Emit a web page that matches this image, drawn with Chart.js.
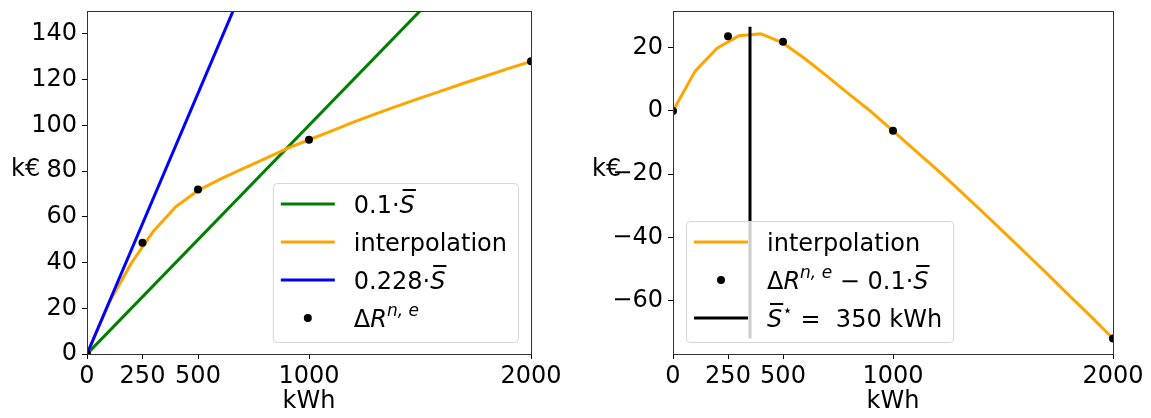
<!DOCTYPE html>
<html lang="en">
<head>
<meta charset="UTF-8">
<title>Storage value vs. size</title>
<script src="https://cdn.jsdelivr.net/npm/chart.js"></script>
<style>
  html, body { margin: 0; padding: 0; background: #fff; overflow: hidden; }
  canvas { position: absolute; top: 0; }
  #left { left: 0; }
  #right { left: 575px; }
</style>
</head>
<body>
<canvas id="left" width="575" height="418"></canvas>
<canvas id="right" width="576" height="418"></canvas>
<script>
  // ---- data ----
  const xTicks = [0, 250, 500, 1000, 2000];
  const leftYTicks = [0, 20, 40, 60, 80, 100, 120, 140];
  const rightYTicks = [-60, -40, -20, 0, 20];

  // interpolation curve, every 100 kWh
  const gridKwh = [0, 100, 200, 300, 400, 500, 600, 700, 800, 900, 1000,
                   1100, 1200, 1300, 1400, 1500, 1600, 1700, 1800, 1900, 2000];
  const interpLeft = [0, 22.5, 39.8, 53.8, 64.4, 71.5, 76.5, 81, 85.3, 89.8, 93.7,
                      97.5, 101.4, 105, 108.5, 111.9, 115.2, 118.5, 121.7, 124.9, 128];
  const interpRight = [0, 12.5, 19.8, 23.8, 24.4, 21.5, 16.5, 11, 5.3, -0.2, -6.3,
                       -12.5, -18.6, -25, -31.5, -38.1, -44.8, -51.5, -58.3, -65.1, -72];

  // sampled points
  const sampleKwh = [0, 250, 500, 1000, 2000];
  const deltaR = [0, 48.6, 71.9, 93.7, 128];
  const deltaRMinus = [0, 23.6, 21.9, -6.3, -72];

  // straight lines 0.1*S and 0.228*S (end points)
  const lineKwh = [0, 2000];
  const line01 = [0, 200];
  const line0228 = [0, 456];

  // optimum
  const sStar = 350;
  const sStarSpan = [-72, 26.6];

  const leftYRange = [0, 150];
  const rightYRange = [-76.9, 31.6];

  const FONT = '"DejaVu Sans", sans-serif';
  Chart.defaults.font.family = FONT;
  Chart.defaults.font.size = 24;
  Chart.defaults.color = '#000';

  const pts = (xs, ys) => xs.map((x, i) => ({ x: x, y: ys[i] }));
  const fmt = v => (v < 0 ? '\u2212' + Math.abs(v) : String(v));

  // tiny "mathtext" renderer for legend labels
  function drawRich(ctx, parts, x, y, draw) {
    const x0 = x;
    parts.forEach(p => {
      const size = p.sup ? 17 : 24;
      ctx.font = (p.it ? 'italic ' : '') + size + 'px ' + FONT;
      const w = ctx.measureText(p.t).width;
      if (draw) {
        ctx.fillText(p.t, x, p.sup ? y - 11 : y);
        if (p.over) ctx.fillRect(x + 3, y - 24, w - 2, 2);
      }
      x += w;
    });
    return x - x0;
  }

  function decorPlugin(entries, corner, yLabelX) {
    return {
      id: 'decor',
      afterDatasetsDraw(chart) {
        const ctx = chart.ctx, a = chart.chartArea;
        ctx.save();
        // axes box
        ctx.strokeStyle = '#333';
        ctx.lineWidth = 1;
        ctx.strokeRect(Math.round(a.left) + 0.5, Math.round(a.top) + 0.5,
                       Math.round(a.right - a.left), Math.round(a.bottom - a.top));
        // legend
        const textW = Math.max(...entries.map(e => drawRich(ctx, e.label, 0, 0, false)));
        const w = 8 + 54 + 19 + textW + 11;
        const h = 21 + (entries.length - 1) * 38 + 24;
        const x = corner === 'right' ? a.right - 13 - w : a.left + 13;
        const y = a.bottom - 12 - h;
        ctx.beginPath();
        ctx.roundRect(x + 0.5, y + 0.5, w, h, 4);
        ctx.fillStyle = 'rgba(255,255,255,0.8)';
        ctx.fill();
        ctx.strokeStyle = '#d6d6d6';
        ctx.stroke();
        entries.forEach((e, i) => {
          const cy = y + 21 + i * 38;
          if (e.dot) {
            ctx.fillStyle = '#000';
            ctx.beginPath();
            ctx.arc(x + 35, cy, 4, 0, 2 * Math.PI);
            ctx.fill();
          } else {
            ctx.strokeStyle = e.color;
            ctx.lineWidth = 3;
            ctx.beginPath();
            ctx.moveTo(x + 8, cy);
            ctx.lineTo(x + 62, cy);
            ctx.stroke();
          }
          ctx.fillStyle = '#000';
          ctx.textAlign = 'left';
          ctx.textBaseline = 'alphabetic';
          drawRich(ctx, e.label, x + 81, cy + 9, true);
        });
        // horizontal y label
        ctx.font = '24px ' + FONT;
        ctx.fillText('k\u20ac', yLabelX, 176);
        ctx.restore();
      }
    };
  }

  function makeScales(yRange, yTicks, yWidth) {
    return {
      x: {
        type: 'linear', min: 0, max: 2000,
        afterBuildTicks: s => { s.ticks = xTicks.map(v => ({ value: v })); },
        afterFit: s => { s.height = 64; s.paddingLeft = 0; s.paddingRight = 0; },
        ticks: { autoSkip: false, maxRotation: 0, padding: 3, callback: v => fmt(v) },
        grid: { drawOnChartArea: false, tickLength: 5, tickColor: '#000' },
        border: { display: false },
        title: { display: true, text: 'kWh', padding: { top: 0, bottom: 2 } }
      },
      y: {
        type: 'linear', min: yRange[0], max: yRange[1],
        afterBuildTicks: s => { s.ticks = yTicks.map(v => ({ value: v })); },
        afterFit: s => { s.width = yWidth; s.paddingTop = 0; s.paddingBottom = 0; },
        ticks: { autoSkip: false, padding: 5, callback: v => fmt(v) },
        grid: { drawOnChartArea: false, tickLength: 5, tickColor: '#000' },
        border: { display: false }
      }
    };
  }

  const baseOpts = (scales, right) => ({
    responsive: false,
    animation: false,
    layout: { padding: { top: 11, right: right, left: 0, bottom: 0 } },
    scales: scales,
    plugins: { legend: { display: false }, tooltip: { enabled: false } }
  });

  const lineDs = (data, color, order) => ({
    data: data, showLine: true, borderColor: color, borderWidth: 3,
    pointRadius: 0, borderJoinStyle: 'round', order: order
  });
  const dotDs = (data, order) => ({
    data: data, showLine: false, pointRadius: 4, pointHoverRadius: 4,
    backgroundColor: '#000', borderColor: '#000', borderWidth: 0, order: order
  });

  new Chart(document.getElementById('left'), {
    type: 'scatter',
    data: {
      datasets: [
        lineDs(pts(lineKwh, line01), '#008000', 3),
        lineDs(pts(gridKwh, interpLeft), '#ffa500', 2),
        lineDs(pts(lineKwh, line0228), '#0000ff', 1),
        dotDs(pts(sampleKwh, deltaR), 0)
      ]
    },
    options: baseOpts(makeScales(leftYRange, leftYTicks, 87), 44),
    plugins: [decorPlugin([
      { color: '#008000', label: [{ t: '0.1\u00b7' }, { t: 'S', it: 1, over: 1 }] },
      { color: '#ffa500', label: [{ t: 'interpolation' }] },
      { color: '#0000ff', label: [{ t: '0.228\u00b7' }, { t: 'S', it: 1, over: 1 }] },
      { dot: true, label: [{ t: '\u0394' }, { t: 'R', it: 1 }, { t: 'n, e', it: 1, sup: 1 }] }
    ], 'right', 11)]
  });

  new Chart(document.getElementById('right'), {
    type: 'scatter',
    data: {
      datasets: [
        lineDs(pts(gridKwh, interpRight), '#ffa500', 2),
        dotDs(pts(sampleKwh, deltaRMinus), 1),
        lineDs(pts([sStar, sStar], sStarSpan), '#000', 0)
      ]
    },
    options: baseOpts(makeScales(rightYRange, rightYTicks, 98), 38),
    plugins: [decorPlugin([
      { color: '#ffa500', label: [{ t: 'interpolation' }] },
      { dot: true, label: [{ t: '\u0394' }, { t: 'R', it: 1 }, { t: 'n, e', it: 1, sup: 1 },
                           { t: ' \u2212 0.1\u00b7' }, { t: 'S', it: 1, over: 1 }] },
      { color: '#000', label: [{ t: 'S', it: 1, over: 1 }, { t: '\u22c6', sup: 1 },
                               { t: ' =  350 kWh' }] }
    ], 'left', 17)]
  });
</script>
</body>
</html>
